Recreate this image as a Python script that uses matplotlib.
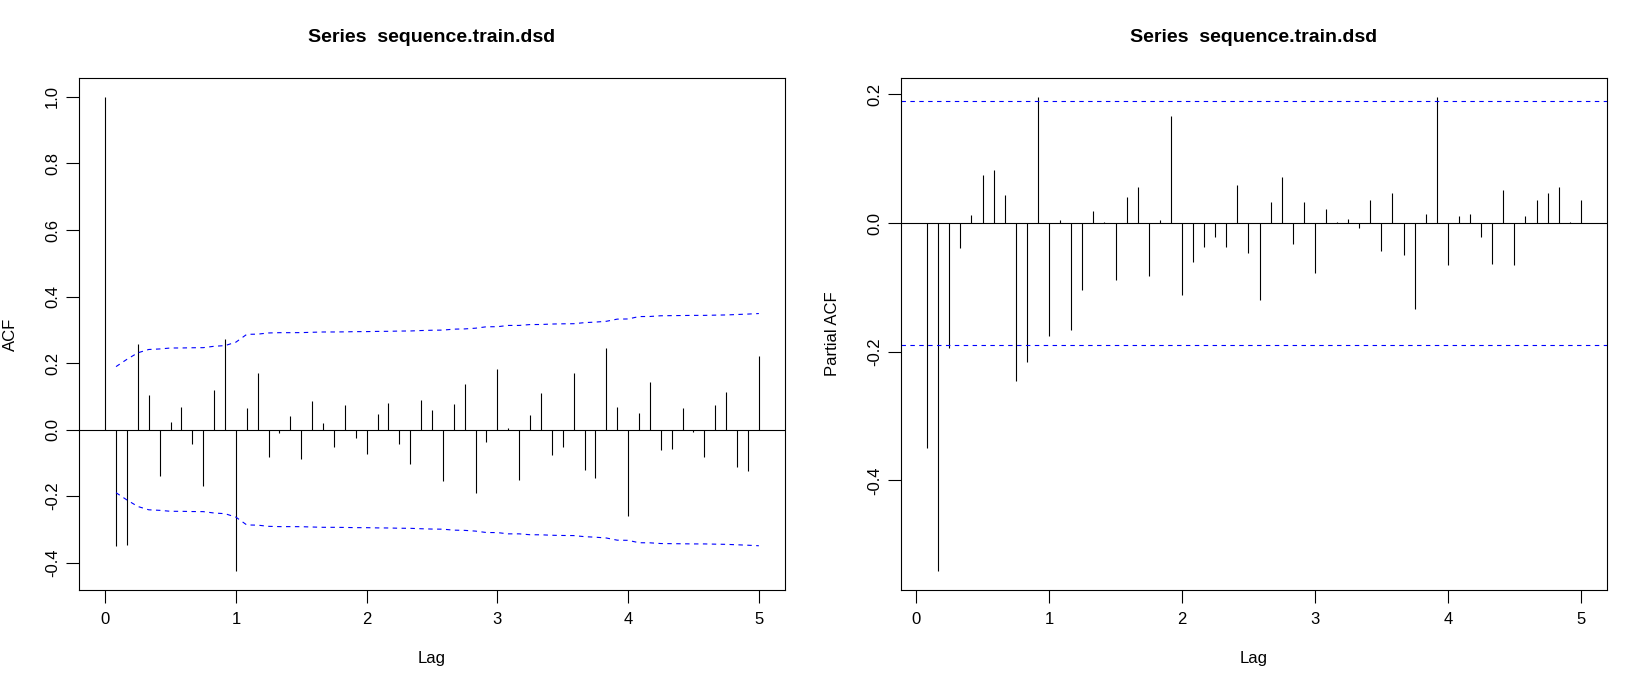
import numpy as np
import matplotlib
matplotlib.use("Agg")
import matplotlib.pyplot as plt

plt.rcParams['font.family'] = ['Liberation Sans', 'DejaVu Sans']
plt.rcParams['axes.unicode_minus'] = False

# ---- data ----
frequency = 12
n_used = 107
acf_values = [1.0, -0.350, -0.347, 0.256, 0.104, -0.140, 0.022, 0.067, -0.043, -0.170, 0.119,
              0.272, -0.425, 0.064, 0.170, -0.083, -0.011, 0.040, -0.089, 0.085, 0.019,
              -0.053, 0.073, -0.026, -0.074, 0.046, 0.079, -0.043, -0.104, 0.088, 0.058,
              -0.155, 0.076, 0.137, -0.191, -0.037, 0.182, 0.004, -0.152, 0.043, 0.110,
              -0.076, -0.052, 0.170, -0.122, -0.146, 0.245, 0.067, -0.260, 0.049, 0.143,
              -0.061, -0.058, 0.064, -0.007, -0.082, 0.073, 0.113, -0.113, -0.125, 0.220]
pacf_values = [-0.350, -0.541, -0.194, -0.039, 0.013, 0.075, 0.083, 0.044, -0.245, -0.216,
               0.196, -0.176, 0.004, -0.166, -0.104, 0.018, 0.001, -0.089, 0.040, 0.056,
               -0.083, 0.005, 0.166, -0.112, -0.060, -0.037, -0.021, -0.038, 0.059, -0.046,
               -0.119, 0.032, 0.072, -0.032, 0.032, -0.077, 0.022, 0.002, 0.007, -0.007,
               0.036, -0.044, 0.047, -0.049, -0.133, 0.014, 0.196, -0.066, 0.011, 0.014,
               -0.021, -0.063, 0.052, -0.065, 0.011, 0.036, 0.047, 0.056, 0.002, 0.036]
title_text = "Series  sequence.train.dsd"
x_label = "Lag"
acf_label = "ACF"
pacf_label = "Partial ACF"
x_ticks = [0, 1, 2, 3, 4, 5]
acf_yticks = [-0.4, -0.2, 0.0, 0.2, 0.4, 0.6, 0.8, 1.0]
pacf_yticks = [-0.4, -0.2, 0.0, 0.2]

acf = np.array(acf_values)
pacf = np.array(pacf_values)
acf_lags = np.arange(len(acf)) / frequency
pacf_lags = np.arange(1, len(pacf) + 1) / frequency

# confidence limits as computed by R's plot.acf
clim0 = 1.959964 / np.sqrt(n_used)
clim_ma = clim0 * np.sqrt(np.cumsum(np.concatenate([[1.0], 2 * acf[1:] ** 2])))[:-1]

LW = 0.8
fig = plt.figure(figsize=(16.45, 6.86), dpi=100)
ax1 = fig.add_axes([79/1645, 1 - 590/686, 706/1645, 512/686])
ax2 = fig.add_axes([901/1645, 1 - 590/686, 706/1645, 512/686])


def ext(lo, hi):
    d = (hi - lo) * 0.04
    return lo - d, hi + d


def style(ax, yticks, ylabel):
    for s in ax.spines.values():
        s.set_linewidth(LW)
        s.set_color('black')
    ax.set_xticks(x_ticks)
    ax.set_xticklabels([str(t) for t in x_ticks])
    ax.set_yticks(yticks)
    ax.set_yticklabels([f"{t:.1f}" for t in yticks], rotation=90, va='center')
    ax.tick_params(axis='both', length=9.5, width=LW, labelsize=12, direction='out')
    ax.tick_params(axis='x', pad=6.5)
    ax.tick_params(axis='y', pad=4)
    ax.set_xlabel(x_label, fontsize=12)
    ax.set_ylabel(ylabel, fontsize=12)
    ax.xaxis.set_label_coords(0.5, -0.120)
    ax.yaxis.set_label_coords(-0.086, 0.5)


# ACF panel
ax1.vlines(acf_lags, 0, acf, color='black', linewidth=LW)
ax1.axhline(0, color='black', linewidth=LW)
ax1.plot(acf_lags[1:], clim_ma, color='#0000FF', linestyle=(0, (4, 4)), linewidth=LW)
ax1.plot(acf_lags[1:], -clim_ma, color='#0000FF', linestyle=(0, (4, 4)), linewidth=LW)
ax1.set_xlim(*ext(acf_lags.min(), acf_lags.max()))
ax1.set_ylim(*ext(min(acf.min(), -clim_ma.max()), max(acf.max(), clim_ma.max())))
style(ax1, acf_yticks, acf_label)

# PACF panel
ax2.vlines(pacf_lags, 0, pacf, color='black', linewidth=LW)
ax2.axhline(0, color='black', linewidth=LW)
ax2.axhline(clim0, color='#0000FF', linestyle=(0, (4, 4)), linewidth=LW)
ax2.axhline(-clim0, color='#0000FF', linestyle=(0, (4, 4)), linewidth=LW)
ax2.set_xlim(*ext(pacf_lags.min(), pacf_lags.max()))
ax2.set_ylim(*ext(min(pacf.min(), -clim0), max(pacf.max(), clim0)))
style(ax2, pacf_yticks, pacf_label)

for ax in (ax1, ax2):
    pos = ax.get_position()
    fig.text(pos.x0 + pos.width / 2, 1 - 37/686, title_text, ha='center', va='center',
             fontsize=14.0, fontweight='bold')

fig.savefig("out.png", dpi=100)
